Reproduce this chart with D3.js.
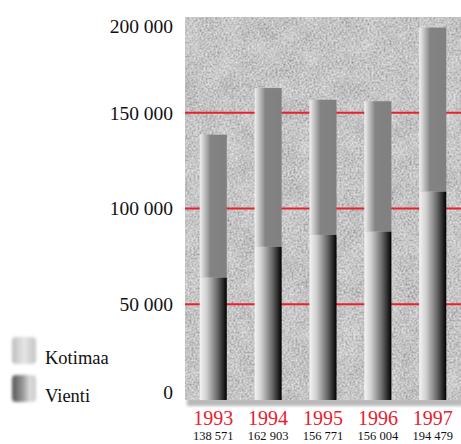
<!DOCTYPE html>
<html lang="fi">
<head>
<meta charset="utf-8">
<title>Kotimaa ja vienti 1993–1997</title>
<script src="https://cdn.jsdelivr.net/npm/d3@7"></script>
<style>
  body { margin: 0; background: #fff; }
  text { font-family: "Liberation Serif", "DejaVu Serif", serif; }
</style>
</head>
<body>
<div id="chart"></div>
<script>
var years = ["1993", "1994", "1995", "1996", "1997"];
var vienti = [63900, 80000, 86200, 87900, 108800];
var totals = [138571, 162903, 156771, 156004, 194479];
var kotimaa = totals.map(function(t, i) { return t - vienti[i]; });
var yTicks = [0, 50000, 100000, 150000, 200000];
var gridTicks = [50000, 100000, 150000];

var width = 461, height = 444;
var plot = { left: 185, right: 461, top: 17, bottom: 400 };

var fmt = d3.formatLocale({ decimal: ",", thousands: " ", grouping: [3], currency: ["", ""] }).format(",d");

var svg = d3.select("#chart").append("svg")
    .attr("width", width)
    .attr("height", height);

var defs = svg.append("defs");

// stone texture: light mottling + fine grain
var stone = defs.append("filter").attr("id", "stone")
    .attr("x", 0).attr("y", 0).attr("width", 1).attr("height", 1);
stone.append("feTurbulence")
    .attr("type", "fractalNoise").attr("baseFrequency", 0.05)
    .attr("numOctaves", 3).attr("seed", 4).attr("result", "coarse");
stone.append("feTurbulence")
    .attr("type", "fractalNoise").attr("baseFrequency", 0.5)
    .attr("numOctaves", 4).attr("seed", 9).attr("result", "fine");
stone.append("feComposite").attr("in", "coarse").attr("in2", "fine")
    .attr("operator", "arithmetic")
    .attr("k1", 0).attr("k2", 0.25).attr("k3", 0.85).attr("k4", -0.05)
    .attr("result", "mix");
stone.append("feColorMatrix").attr("in", "mix").attr("type", "matrix")
    .attr("values", "0.75 0 0 0 0.22  0.75 0 0 0 0.22  0.75 0 0 0 0.22  0 0 0 0 1");

var soft = defs.append("filter").attr("id", "soft")
    .attr("x", -0.2).attr("y", -0.2).attr("width", 1.4).attr("height", 1.4);
soft.append("feGaussianBlur").attr("stdDeviation", 1.6);

function grad(id, stops) {
  var g = defs.append("linearGradient").attr("id", id)
      .attr("x1", "0%").attr("x2", "100%").attr("y1", "0%").attr("y2", "0%");
  stops.forEach(function(s) {
    g.append("stop").attr("offset", s[0]).attr("stop-color", s[1]);
  });
}
grad("gKoti", [["0%", "#f2f2f2"], ["40%", "#838383"], ["100%", "#808080"]]);
grad("gVienti", [["0%", "#f4f4f4"], ["25%", "#d0d0d0"], ["65%", "#6a6a6a"], ["100%", "#000"]]);
grad("lKoti", [["0%", "#bdbdbd"], ["50%", "#e6e6e6"], ["100%", "#c4c4c4"]]);
grad("lVienti", [["0%", "#555"], ["45%", "#999"], ["75%", "#ddd"], ["100%", "#c8c8c8"]]);

var x = d3.scaleBand().domain(years)
    .range([186, 460]).paddingInner(0.507).paddingOuter(0.25);
var y = d3.scaleLinear().domain([0, 200000]).range([plot.bottom, plot.top]);

// background shadow + texture
svg.append("rect")
    .attr("x", plot.left + 2).attr("y", plot.bottom - 2)
    .attr("width", plot.right - plot.left).attr("height", 8)
    .attr("fill", "#b8b8b8").attr("filter", "url(#soft)");
svg.append("rect")
    .attr("x", plot.left).attr("y", plot.top)
    .attr("width", plot.right - plot.left).attr("height", plot.bottom - plot.top)
    .attr("filter", "url(#stone)");

// red grid lines
svg.append("g").selectAll("line")
    .data(gridTicks)
  .enter().append("line")
    .attr("x1", plot.left).attr("x2", plot.right)
    .attr("y1", function(d) { return y(d); })
    .attr("y2", function(d) { return y(d); })
    .attr("stroke", "#e8212e").attr("stroke-width", 2);

// bars
var rows = years.map(function(yr, i) {
  return { year: yr, vienti: vienti[i], kotimaa: kotimaa[i], total: totals[i] };
});

var bars = svg.append("g").selectAll("g")
    .data(rows)
  .enter().append("g");

bars.append("rect")
    .attr("x", function(d) { return x(d.year); })
    .attr("width", x.bandwidth())
    .attr("y", function(d) { return y(d.vienti + d.kotimaa); })
    .attr("height", function(d) { return y(d.vienti) - y(d.vienti + d.kotimaa); })
    .attr("fill", "url(#gKoti)");

bars.append("rect")
    .attr("x", function(d) { return x(d.year); })
    .attr("width", x.bandwidth())
    .attr("y", function(d) { return y(d.vienti); })
    .attr("height", function(d) { return y(0) - y(d.vienti); })
    .attr("fill", "url(#gVienti)");

// y axis labels
var yAxis = svg.append("g")
    .attr("transform", "translate(" + plot.left + ",0)")
    .call(d3.axisLeft(y).tickValues(yTicks).tickSize(0).tickPadding(12).tickFormat(fmt));
yAxis.select(".domain").remove();
yAxis.selectAll("text")
    .attr("font-family", "Liberation Serif, serif")
    .attr("font-size", 19.5)
    .attr("fill", "#111")
    .attr("dy", function(d) { return d === 200000 ? "0.8em" : d === 0 ? "-0.1em" : "0.32em"; });

// x labels
var xl = svg.append("g").selectAll("g")
    .data(rows)
  .enter().append("g")
    .attr("transform", function(d) { return "translate(" + (x(d.year) + x.bandwidth() / 2) + ",0)"; });
xl.append("text")
    .attr("y", 425)
    .attr("text-anchor", "middle")
    .attr("font-size", 20)
    .attr("fill", "#e8212e")
    .text(function(d) { return d.year; });
xl.append("text")
    .attr("y", 440)
    .attr("text-anchor", "middle")
    .attr("font-size", 12.5)
    .attr("fill", "#111")
    .text(function(d) { return fmt(d.total); });

// legend
var legend = [
  { label: "Kotimaa", fill: "url(#lKoti)", y: 337 },
  { label: "Vienti", fill: "url(#lVienti)", y: 375 }
];
var lg = svg.append("g").selectAll("g")
    .data(legend)
  .enter().append("g")
    .attr("transform", function(d) { return "translate(0," + d.y + ")"; });
lg.append("rect")
    .attr("x", 12).attr("y", 0).attr("width", 24).attr("height", 27).attr("rx", 4)
    .attr("fill", function(d) { return d.fill; })
    .attr("filter", "url(#soft)");
lg.append("text")
    .attr("x", 45).attr("y", 27)
    .attr("font-size", 18.5)
    .attr("fill", "#111")
    .text(function(d) { return d.label; });
</script>
</body>
</html>
